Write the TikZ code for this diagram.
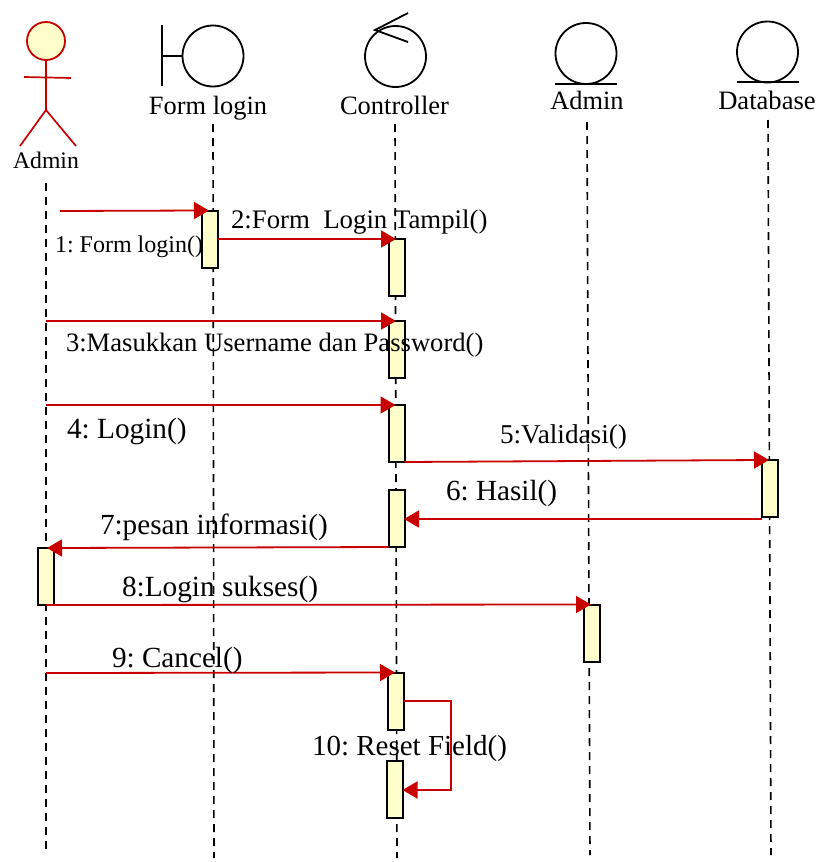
\documentclass[tikz,border=0pt]{standalone}
\usepackage{fontspec}
\setmainfont{Liberation Serif}
\usetikzlibrary{arrows.meta}
\definecolor{umlred}{HTML}{C80000}
\definecolor{umlfill}{HTML}{FFFFCC}
\newcommand{\fsz}[1]{\fontsize{#1pt}{#1pt}\selectfont}
\frenchspacing
\tikzset{
  lifeline/.style={black,line width=1.6pt,dash pattern=on 8pt off 6pt},
  activation/.style={draw=black,fill=umlfill,line width=2pt,minimum width=16pt,minimum height=57pt,inner sep=0pt,outer sep=0pt},
  msg/.style={umlred,line width=1.8pt,-{Triangle[length=15pt,width=17pt]},shorten >=-0.5pt},
  msgin/.style={msg,shorten >=-7pt},
  actorline/.style={umlred,line width=1.7pt},
  symbolline/.style={black,line width=1.8pt},
  symbolcircle/.style={circle,draw=black,line width=1.8pt,minimum size=61pt,inner sep=0pt},
  lbl/.style={anchor=base west,inner sep=0pt,outer sep=0pt,text=black},
  objname/.style={anchor=base,inner sep=0pt,outer sep=0pt,text=black}
}
\begin{document}
\begin{tikzpicture}[x=1pt,y=-1pt]
\useasboundingbox (0,0) rectangle (817,862);
% lifeline ends
\coordinate (l1a) at (46,183);  \coordinate (l1b) at (46,850);
\coordinate (l2a) at (213,124); \coordinate (l2b) at (214,858);
\coordinate (l3a) at (395,124); \coordinate (l3b) at (397,858);
\coordinate (l4a) at (587,122); \coordinate (l4b) at (590,855);
\coordinate (l5a) at (768,120); \coordinate (l5b) at (771,855);
\draw[lifeline] (l1a) -- (l1b);
\draw[lifeline] (l2a) -- (l2b);
\draw[lifeline] (l3a) -- (l3b);
\draw[lifeline] (l4a) -- (l4b);
\draw[lifeline] (l5a) -- (l5b);
% actor
\node[circle,draw=umlred,fill=umlfill,line width=1.8pt,minimum size=38pt,inner sep=0pt] (head) at (46,41) {};
\coordinate (hip) at (46,110);
\coordinate (armL) at (24,77); \coordinate (armR) at (71,78);
\coordinate (legL) at (20,146); \coordinate (legR) at (76,146);
\draw[actorline] (head.south) -- (hip);
\draw[actorline] (armL) -- (armR);
\draw[actorline] (legL) -- (hip) -- (legR);
% boundary
\node[symbolcircle] (bnd) at (213,56) {};
\coordinate (bt) at (162,25); \coordinate (bb) at (162,86); \coordinate (bm) at (162,56);
\draw[symbolline] (bt) -- (bb);
\draw[symbolline] (bm) -- (bnd.west);
% control
\node[symbolcircle] (ctl) at (395.5,56.5) {};
\coordinate (cv) at (375,30); \coordinate (c1e) at (408,13); \coordinate (c2e) at (408,42);
\draw[symbolline] (c1e) -- (cv) -- (c2e);
% entities
\node[symbolcircle] (ent) at (586,53.5) {};
\coordinate (e1) at (555,84); \coordinate (e2) at (617,84);
\draw[symbolline] (e1) -- (e2);
\node[symbolcircle] (dbc) at (767.5,52) {};
\coordinate (d1) at (737,82); \coordinate (d2) at (799,82);
\draw[symbolline] (d1) -- (d2);
% names
\node[objname,font=\fsz{23.7}] (nA) at (46,168) {Admin};
\node[objname,font=\fsz{26.4}] (nF) at (208,114) {Form login};
\node[objname,font=\fsz{26.5}] (nC) at (394.5,114) {Controller};
\node[objname,font=\fsz{26.4}] (nE) at (587,109) {Admin};
\node[objname,font=\fsz{26.6}] (nD) at (767,109) {Database};
% activations
\node[activation] (f1) at (210,239) {};
\node[activation] (c1) at (397,267.5) {};
\node[activation] (c2) at (397,349.5) {};
\node[activation] (c3) at (396.5,433.5) {};
\node[activation] (c4) at (396.5,518.5) {};
\node[activation] (a1) at (46,576.5) {};
\node[activation] (e3) at (592,633) {};
\node[activation] (d3) at (770,488.5) {};
\node[activation] (c5) at (396,701) {};
\node[activation] (c6) at (395,789.5) {};
% messages
\coordinate (m1) at (60,211);
\coordinate (m3) at (46,321);
\coordinate (m4) at (46,405);
\coordinate (m6) at (762,519);
\coordinate (m8) at (46,605);
\coordinate (m9) at (46,673);
\coordinate (s1) at (451,701);
\coordinate (s2) at (451,790);
\draw[msgin] (m1) -- (f1.north west);
\draw[msgin] (f1.east) -- (c1.north west);
\draw[msgin] (m3) -- (c2.north west);
\draw[msgin] (m4) -- (c3.north west);
\draw[msgin] (c3.south east) -- (d3.north west);
\draw[msg] (m6) -- (c4.east |- m6);
\draw[msgin] (c4.south west) -- (a1.north east);
\draw[msgin] (m8) -- (e3.north west);
\draw[msgin] (m9) -- (c5.north west);
\draw[msg] (c5.east) -- (s1) -- (s2) -- (c6.east |- s2);
% labels
\node[lbl,font=\fsz{24}] (t1) at (55,252) {1: Form login()};
\node[lbl,font=\fsz{26.8}] (t2) at (231,228) {2:Form\ \ Login Tampil()};
\node[lbl,font=\fsz{26.6}] (t3) at (66,351) {3:Masukkan Username dan Password()};
\node[lbl,font=\fsz{29.3}] (t4) at (67,438) {4: Login()};
\node[lbl,font=\fsz{27.2}] (t5) at (500,443) {5:Validasi()};
\node[lbl,font=\fsz{29.2}] (t6) at (446,500) {6: Hasil()};
\node[lbl,font=\fsz{29.2}] (t7) at (100,534) {7:pesan informasi()};
\node[lbl,font=\fsz{29.3}] (t8) at (122,596) {8:Login sukses()};
\node[lbl,font=\fsz{29.2}] (t9) at (112,667) {9: Cancel()};
\node[lbl,font=\fsz{29}] (t10) at (312,755) {10: Reset Field()};
\end{tikzpicture}
\end{document}
